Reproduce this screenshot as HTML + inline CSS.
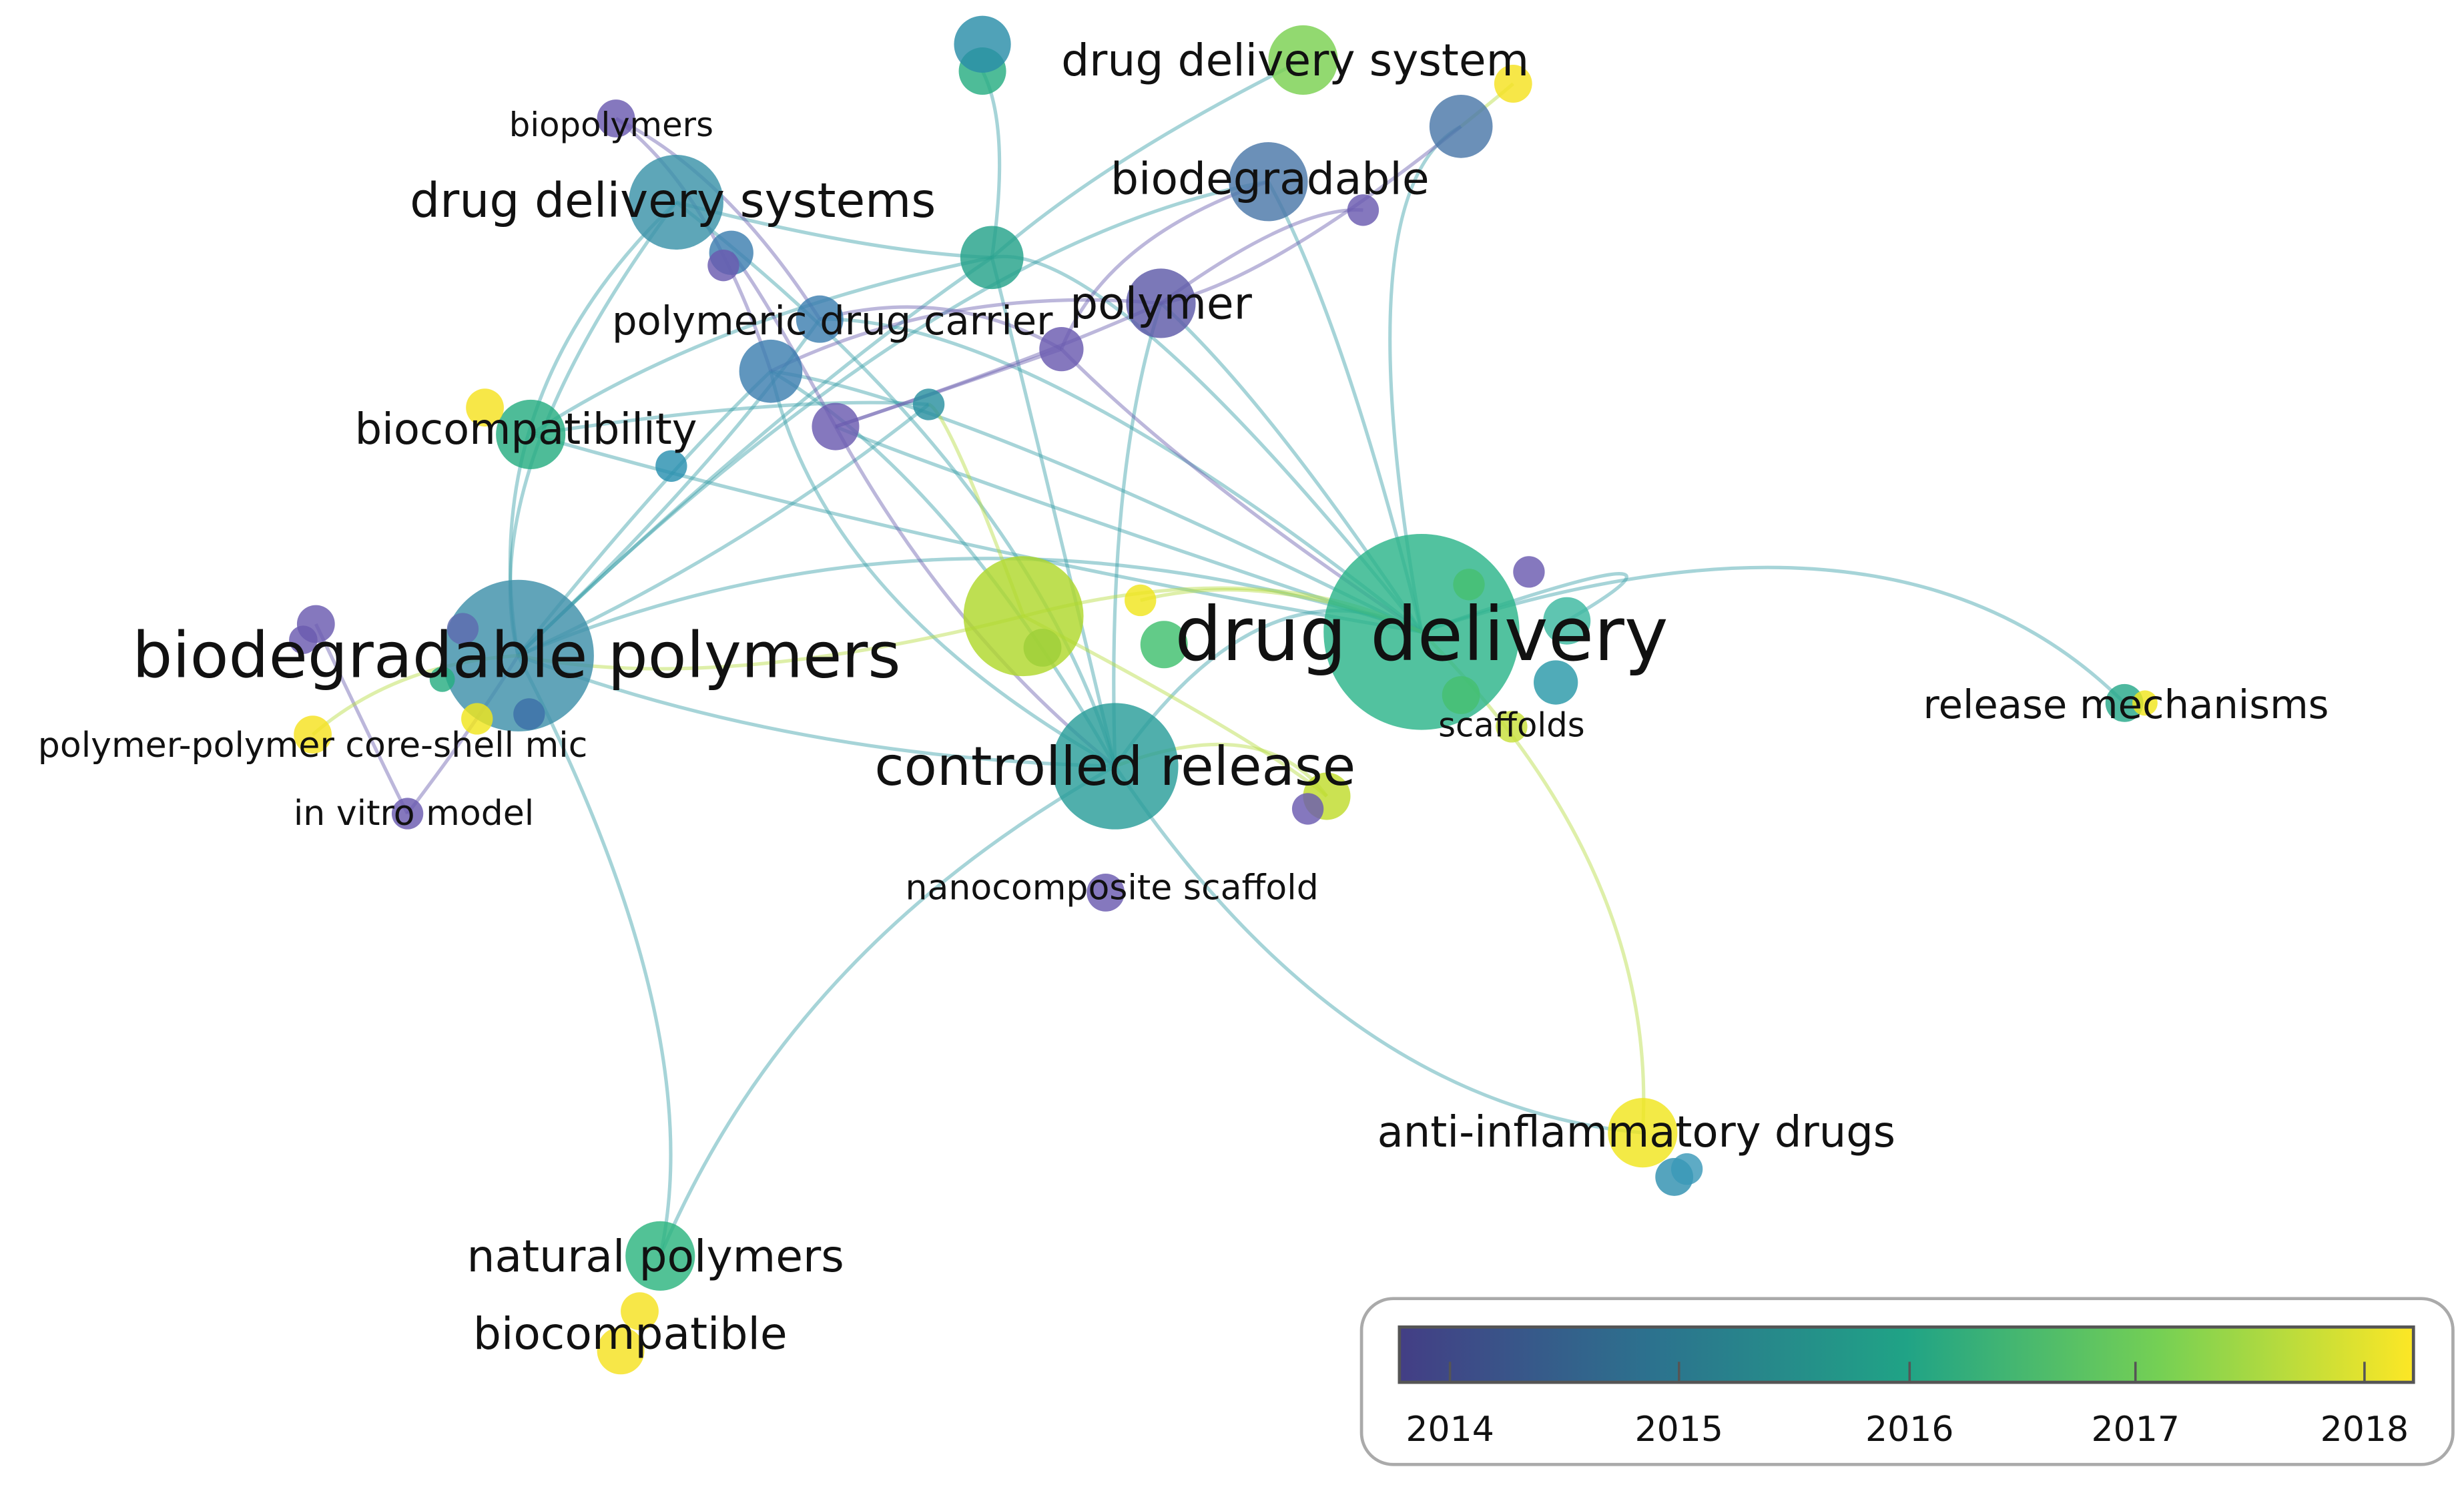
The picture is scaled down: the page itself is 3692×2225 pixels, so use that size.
<!DOCTYPE html>
<html><head><meta charset="utf-8"><style>
html,body{margin:0;padding:0;background:#fff}
svg{display:block}
text{font-family:"DejaVu Sans","Liberation Sans",sans-serif;fill:#111;text-anchor:middle;dominant-baseline:central}
</style></head><body>
<svg width="3692" height="2225" viewBox="0 0 1560 940" preserveAspectRatio="none">
<defs>
<linearGradient id="vir" x1="0" x2="1">
<stop offset="0" stop-color="#433e85"/><stop offset="0.25" stop-color="#2c728e"/>
<stop offset="0.5" stop-color="#20a386"/><stop offset="0.75" stop-color="#75d054"/>
<stop offset="1" stop-color="#fde725"/></linearGradient>
</defs>
<g fill="none" stroke-width="2.2" stroke-opacity="0.45">
<g stroke="#3aa0a8">
<path d="M328,415 Q500,250 628,163"/><path d="M328,415 Q600,300 900,400"/><path d="M328,415 Q500,480 706,485"/>
<path d="M328,415 Q300,250 428,128"/><path d="M328,415 Q450,300 519,202"/><path d="M328,415 Q420,300 488,235"/>
<path d="M328,415 Q600,150 803,115"/><path d="M328,415 Q470,350 588,256"/><path d="M328,415 Q450,650 418,795"/>
<path d="M706,485 Q500,600 418,795"/><path d="M706,485 Q800,350 900,400"/><path d="M706,485 Q600,300 488,235"/>
<path d="M706,485 Q650,250 628,163"/><path d="M706,485 Q700,300 735,192"/><path d="M706,485 Q850,700 1040,717"/>
<path d="M900,400 Q1200,300 1345,445"/><path d="M900,400 Q850,200 803,115"/><path d="M900,400 Q850,120 925,80"/>
<path d="M900,400 Q700,150 628,163"/><path d="M900,400 Q600,250 488,235"/><path d="M900,400 Q650,200 519,202"/>
<path d="M900,400 Q600,300 529,270"/><path d="M900,400 Q800,250 735,192"/><path d="M628,163 Q640,80 622,45"/>
<path d="M628,163 Q700,100 825,38"/><path d="M428,128 Q550,160 628,163"/><path d="M336,275 Q450,200 628,163"/>
<path d="M336,275 Q600,350 900,400"/><path d="M336,275 Q500,250 588,256"/><path d="M428,128 Q650,300 706,485"/>
<path d="M428,128 Q300,300 328,415"/><path d="M488,235 Q520,380 706,485"/><path d="M900,400 Q1100,330 992,393"/>
</g>
<g stroke="#6a5fb0">
<path d="M390,75 Q450,120 488,235"/><path d="M390,75 Q460,110 519,202"/><path d="M735,192 Q600,180 488,235"/>
<path d="M735,192 Q650,230 529,270"/><path d="M735,192 Q820,130 863,133"/><path d="M735,192 Q800,180 925,80"/>
<path d="M672,221 Q600,180 519,202"/><path d="M672,221 Q560,260 529,270"/><path d="M529,270 Q600,400 706,485"/>
<path d="M529,270 Q480,180 463,160"/><path d="M803,115 Q700,150 672,221"/><path d="M200,395 Q250,500 258,515"/>
<path d="M258,515 Q300,460 328,415"/><path d="M672,221 Q750,300 900,400"/>
</g>
<g stroke="#b5dc40">
<path d="M900,400 Q1050,550 1040,717"/><path d="M648,390 Q800,350 900,400"/><path d="M648,390 Q450,440 328,415"/>
<path d="M198,465 Q250,420 328,415"/><path d="M840,504 Q800,450 706,485"/><path d="M648,390 Q800,470 840,504"/>
<path d="M925,80 Q950,60 958,53"/><path d="M648,390 Q600,260 588,256"/><path d="M722,380 Q800,360 900,400"/>
</g>
</g>
<g fill-opacity="0.82">
<circle cx="900" cy="400" r="62" fill="#2cb48a"/>
<circle cx="328" cy="415" r="48" fill="#3e90aa"/>
<circle cx="706" cy="485" r="40" fill="#2a9d9a"/>
<circle cx="648" cy="390" r="38" fill="#b0d82c"/>
<circle cx="660" cy="410" r="12" fill="#9fd038"/>
<circle cx="428" cy="128" r="30" fill="#3a93a8"/>
<circle cx="803" cy="115" r="25" fill="#4a78a8"/>
<circle cx="735" cy="192" r="22" fill="#5e5aa8"/>
<circle cx="336" cy="275" r="22" fill="#27ad81"/>
<circle cx="418" cy="795" r="22" fill="#2cb57f"/>
<circle cx="1040" cy="717" r="22" fill="#f0e51d"/>
<circle cx="1060" cy="745" r="12" fill="#3090b0"/><circle cx="1068" cy="740" r="10" fill="#3a98b8"/>
<circle cx="1345" cy="445" r="12" fill="#27a88a"/><circle cx="1358" cy="445" r="8" fill="#f0e51d"/>
<circle cx="622" cy="45" r="15" fill="#27ad81"/><circle cx="622" cy="28" r="18" fill="#2a8ea8"/>
<circle cx="825" cy="38" r="22" fill="#7ad151"/>
<circle cx="925" cy="80" r="20" fill="#4a78a8"/><circle cx="958" cy="53" r="12" fill="#f5e220"/>
<circle cx="628" cy="163" r="20" fill="#25a28a"/>
<circle cx="519" cy="202" r="15" fill="#3d7fb0"/><circle cx="488" cy="235" r="20" fill="#3d7fb0"/>
<circle cx="529" cy="270" r="15" fill="#6a5ab0"/><circle cx="588" cy="256" r="10" fill="#2a90a0"/>
<circle cx="672" cy="221" r="14" fill="#6a5ab0"/><circle cx="463" cy="160" r="14" fill="#3d7fb0"/>
<circle cx="458" cy="168" r="10" fill="#6a5ab0"/><circle cx="390" cy="75" r="12" fill="#6a5ab0"/>
<circle cx="425" cy="295" r="10" fill="#2a90b0"/><circle cx="307" cy="258" r="12" fill="#f5e220"/>
<circle cx="200" cy="395" r="12" fill="#6a5ab0"/><circle cx="192" cy="405" r="9" fill="#6a5ab0"/>
<circle cx="198" cy="465" r="12" fill="#f5e220"/><circle cx="258" cy="515" r="10" fill="#6a5ab0"/>
<circle cx="335" cy="452" r="10" fill="#3d6fa8"/><circle cx="302" cy="455" r="10" fill="#f0e51d"/>
<circle cx="280" cy="430" r="8" fill="#27ad81"/><circle cx="293" cy="398" r="10" fill="#5e6ab0"/>
<circle cx="968" cy="362" r="10" fill="#6a5ab0"/><circle cx="992" cy="393" r="15" fill="#3cb8a0"/>
<circle cx="985" cy="432" r="14" fill="#2a98a8"/><circle cx="957" cy="460" r="10" fill="#c8e03a"/>
<circle cx="925" cy="440" r="12" fill="#45c070"/><circle cx="930" cy="370" r="10" fill="#45c070"/>
<circle cx="737" cy="408" r="15" fill="#3fbf6e"/><circle cx="722" cy="380" r="10" fill="#f0e51d"/>
<circle cx="840" cy="504" r="15" fill="#c0dc2c"/><circle cx="828" cy="512" r="10" fill="#6a5ab0"/>
<circle cx="700" cy="565" r="12" fill="#6a5ab0"/><circle cx="863" cy="133" r="10" fill="#6a5ab0"/>
<circle cx="405" cy="830" r="12" fill="#f5e220"/><circle cx="393" cy="855" r="15" fill="#f5e220"/>
</g>
<g>
<text x="900" y="402" font-size="47">drug delivery</text>
<text x="327" y="415" font-size="40">biodegradable polymers</text>
<text x="706" y="485" font-size="34">controlled release</text>
<text x="426" y="127" font-size="30">drug delivery systems</text>
<text x="820" y="38" font-size="28">drug delivery system</text>
<text x="804" y="113" font-size="28">biodegradable</text>
<text x="735" y="192" font-size="28">polymer</text>
<text x="333" y="272" font-size="27">biocompatibility</text>
<text x="527" y="203" font-size="25">polymeric drug carrier</text>
<text x="387" y="79" font-size="21">biopolymers</text>
<text x="415" y="795" font-size="28">natural polymers</text>
<text x="399" y="844" font-size="28">biocompatible</text>
<text x="1036" y="717" font-size="27">anti-inflammatory drugs</text>
<text x="1346" y="446" font-size="25">release mechanisms</text>
<text x="957" y="459" font-size="21">scaffolds</text>
<text x="198" y="472" font-size="22">polymer-polymer core-shell mic</text>
<text x="262" y="515" font-size="22">in vitro model</text>
<text x="704" y="562" font-size="22">nanocomposite scaffold</text>
</g>
<rect x="862" y="822" width="691" height="105" rx="20" fill="#fff" stroke="#aaa" stroke-width="2"/>
<rect x="886" y="840" width="642" height="35" fill="url(#vir)" stroke="#555" stroke-width="2"/>
<g stroke="#555" stroke-width="1.5">
<line x1="918" y1="862" x2="918" y2="875"/><line x1="1063" y1="862" x2="1063" y2="875"/>
<line x1="1209" y1="862" x2="1209" y2="875"/><line x1="1352" y1="862" x2="1352" y2="875"/>
<line x1="1497" y1="862" x2="1497" y2="875"/></g>
<g>
<text x="918" y="905" font-size="22">2014</text><text x="1063" y="905" font-size="22">2015</text>
<text x="1209" y="905" font-size="22">2016</text><text x="1352" y="905" font-size="22">2017</text>
<text x="1497" y="905" font-size="22">2018</text></g>
</svg>
</body></html>
